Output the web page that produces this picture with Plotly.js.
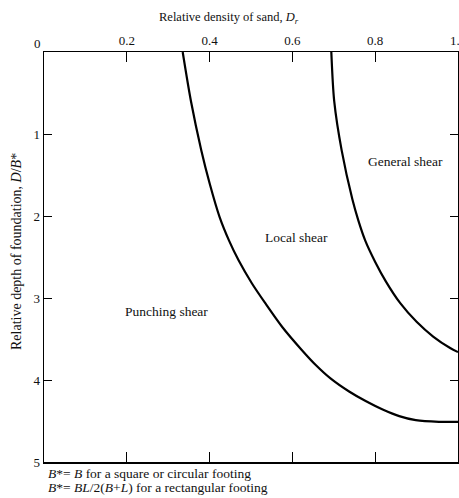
<!DOCTYPE html>
<html>
<head>
<meta charset="utf-8">
<script src="https://cdn.plot.ly/plotly-3.0.1.min.js"></script>
<style>html,body{margin:0;padding:0;background:#fff;}#chart{width:459px;height:498px;}</style>
</head>
<body>
<div id="chart"></div>
<script>
// Boundary between punching shear and local shear
const punchX = [0.335, 0.355, 0.380, 0.400, 0.424, 0.447, 0.470, 0.502, 0.534, 0.575, 0.622, 0.657, 0.692, 0.737, 0.778, 0.818, 0.858, 0.898, 0.954, 1.0];
const punchY = [0, 0.6, 1.2, 1.6, 2.01, 2.3, 2.54, 2.82, 3.06, 3.35, 3.63, 3.82, 3.98, 4.14, 4.26, 4.36, 4.44, 4.49, 4.51, 4.51];
// Boundary between local shear and general shear
const genX = [0.694, 0.701, 0.719, 0.745, 0.759, 0.776, 0.800, 0.826, 0.860, 0.900, 0.940, 0.981, 1.0];
const genY = [0, 0.6, 1.2, 1.8, 2.05, 2.3, 2.56, 2.8, 3.06, 3.29, 3.47, 3.61, 3.66];

const xTickVals = [0.2, 0.4, 0.6, 0.8, 1.0];
const xTickText = ['0.2', '0.4', '0.6', '0.8', '1.0'];
const yTickVals = [1, 2, 3, 4, 5];
const yTickText = ['1', '2', '3', '4', '5'];

const zoneLabels = ['General shear', 'Local shear', 'Punching shear'];
const zoneX = [0.874, 0.611, 0.297];
const zoneY = [1.34, 2.26, 3.17];

const serif = 'Liberation Serif, Times New Roman, serif';

const W = 459, H = 498, L = 44, R = 1, T = 52, B = 36;
const pw = W - L - R, ph = H - T - B;
function px(x) { return (x - L) / pw; }
function py(y) { return (H - B - y) / ph; }

const traces = [
  {x: punchX, y: punchY, mode: 'lines', line: {color: '#000', width: 2.2, shape: 'spline', smoothing: 0.8}, hoverinfo: 'skip'},
  {x: genX, y: genY, mode: 'lines', line: {color: '#000', width: 2.2, shape: 'spline', smoothing: 0.8}, hoverinfo: 'skip'}
];

const annotations = zoneLabels.map((t, i) => ({
  x: zoneX[i], y: zoneY[i], xref: 'x', yref: 'y', text: t, showarrow: false,
  xanchor: 'center', yanchor: 'middle',
  font: {family: serif, size: 13.5, color: '#111'}
}));

function paperText(text, x, y, opts) {
  return Object.assign({
    text: text, x: px(x), y: py(y), xref: 'paper', yref: 'paper', showarrow: false,
    xanchor: 'center', yanchor: 'middle',
    font: {family: serif, size: 12.5, color: '#111'}
  }, opts || {});
}

annotations.push(
  paperText('Relative density of sand, <i>D<sub>r</sub></i>', 229, 18),
  paperText('0', 37, 44, {font: {family: serif, size: 13, color: '#111'}}),
  paperText('Relative depth of foundation, <i>D</i>/<i>B</i>*', 16, 252, {textangle: -90, font: {family: serif, size: 14, color: '#111'}}),
  paperText('<i>B</i>*= <i>B</i> for a square or circular footing', 46, 473, {xanchor: 'left', font: {family: serif, size: 13.5, color: '#111'}}),
  paperText('<i>B</i>*= <i>BL</i>/2(<i>B</i>+<i>L</i>) for a rectangular footing', 46, 487, {xanchor: 'left', font: {family: serif, size: 13.5, color: '#111'}})
);

const layout = {
  width: W, height: H,
  margin: {l: L, r: R, t: T, b: B, pad: 0},
  paper_bgcolor: '#fff', plot_bgcolor: '#fff',
  showlegend: false,
  xaxis: {
    range: [0, 1], side: 'top', showgrid: false, zeroline: false,
    showline: true, linecolor: '#000', linewidth: 1.5, mirror: 'ticks',
    ticks: 'inside', ticklen: 10, tickwidth: 1, tickcolor: '#000',
    tickvals: xTickVals, ticktext: xTickText, ticklabeloverflow: 'allow',
    tickfont: {family: serif, size: 13, color: '#111'}
  },
  yaxis: {
    range: [5, 0], showgrid: false, zeroline: false,
    showline: true, linecolor: '#000', linewidth: 1.5, mirror: 'ticks',
    ticks: 'inside', ticklen: 8, tickwidth: 1, tickcolor: '#000',
    tickvals: yTickVals, ticktext: yTickText, ticklabeloverflow: 'allow',
    tickfont: {family: serif, size: 13, color: '#111'}
  },
  annotations: annotations
};

Plotly.newPlot('chart', traces, layout, {displayModeBar: false, staticPlot: true});
</script>
</body>
</html>
